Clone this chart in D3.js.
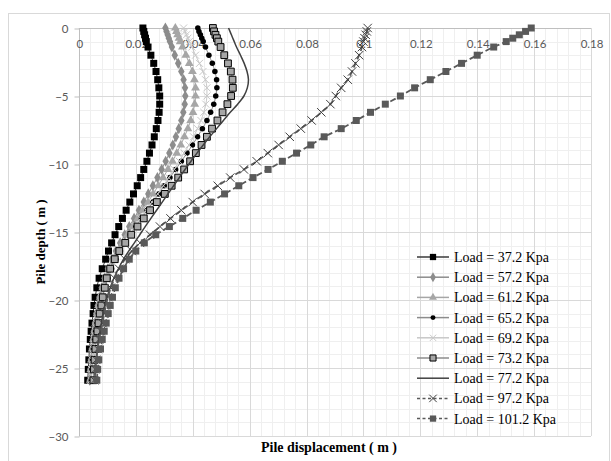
<!DOCTYPE html>
<html><head><meta charset="utf-8">
<script src="https://cdn.jsdelivr.net/npm/d3@7"></script>
<style>
html,body{margin:0;padding:0;background:#fff;}
svg{display:block;}
</style></head>
<body>
<svg id="chart" width="611" height="461"></svg>
<script>
// ---------- data ----------
const depths = [0, -0.25, -0.5, -0.75, -1.0, -1.4, -2.0, -2.6, -3.2, -3.8, -4.4, -5.0, -5.6, -6.2, -6.8, -7.4, -8.0, -8.6, -9.2, -9.8, -10.4, -11.0, -11.6, -12.2, -12.8, -13.4, -14.0, -14.6, -15.2, -15.8, -16.4, -17.0, -17.7, -18.4, -19.1, -19.8, -20.4, -21.0, -21.7, -22.3, -22.9, -23.6, -24.4, -25.1, -25.9];

const load372 = [0.0225, 0.0228, 0.0231, 0.0234, 0.0237, 0.0243, 0.0253, 0.0263, 0.0271, 0.0277, 0.0281, 0.0284, 0.0284, 0.0282, 0.0278, 0.0272, 0.0265, 0.0257, 0.0248, 0.0239, 0.0228, 0.0217, 0.0205, 0.0192, 0.0179, 0.0166, 0.0153, 0.0140, 0.0127, 0.0115, 0.0104, 0.0094, 0.0082, 0.0071, 0.0063, 0.0057, 0.0053, 0.0050, 0.0046, 0.0043, 0.0040, 0.0037, 0.0035, 0.0033, 0.0031];
const load572 = [0.0304, 0.0308, 0.0312, 0.0316, 0.0320, 0.0327, 0.0337, 0.0349, 0.0360, 0.0368, 0.0373, 0.0374, 0.0372, 0.0367, 0.0360, 0.0351, 0.0341, 0.0330, 0.0318, 0.0305, 0.0291, 0.0276, 0.0260, 0.0244, 0.0228, 0.0211, 0.0194, 0.0177, 0.0161, 0.0145, 0.0130, 0.0116, 0.0102, 0.0090, 0.0080, 0.0072, 0.0066, 0.0061, 0.0056, 0.0052, 0.0049, 0.0045, 0.0042, 0.0040, 0.0038];
const load612 = [0.0339, 0.0343, 0.0347, 0.0352, 0.0356, 0.0364, 0.0376, 0.0388, 0.0399, 0.0406, 0.0410, 0.0410, 0.0407, 0.0401, 0.0393, 0.0383, 0.0371, 0.0358, 0.0344, 0.0329, 0.0313, 0.0296, 0.0279, 0.0261, 0.0243, 0.0225, 0.0207, 0.0189, 0.0171, 0.0154, 0.0138, 0.0123, 0.0108, 0.0095, 0.0084, 0.0075, 0.0069, 0.0064, 0.0059, 0.0055, 0.0051, 0.0047, 0.0044, 0.0042, 0.0040];
const load652 = [0.0418, 0.0422, 0.0427, 0.0432, 0.0437, 0.0445, 0.0457, 0.0469, 0.0478, 0.0484, 0.0485, 0.0481, 0.0474, 0.0463, 0.0450, 0.0434, 0.0417, 0.0399, 0.0380, 0.0360, 0.0340, 0.0320, 0.0300, 0.0280, 0.0260, 0.0240, 0.0220, 0.0200, 0.0181, 0.0163, 0.0146, 0.0130, 0.0115, 0.0102, 0.0091, 0.0082, 0.0075, 0.0069, 0.0064, 0.0059, 0.0055, 0.0051, 0.0048, 0.0046, 0.0044];
const load692 = [0.0368, 0.0373, 0.0378, 0.0383, 0.0388, 0.0397, 0.0410, 0.0424, 0.0436, 0.0445, 0.0450, 0.0450, 0.0446, 0.0439, 0.0429, 0.0417, 0.0403, 0.0387, 0.0370, 0.0353, 0.0335, 0.0316, 0.0297, 0.0277, 0.0257, 0.0237, 0.0217, 0.0198, 0.0179, 0.0161, 0.0144, 0.0128, 0.0112, 0.0099, 0.0088, 0.0079, 0.0072, 0.0066, 0.0061, 0.0057, 0.0053, 0.0049, 0.0046, 0.0044, 0.0042];
const load732 = [0.0471, 0.0475, 0.0480, 0.0485, 0.0490, 0.0498, 0.0511, 0.0524, 0.0534, 0.0540, 0.0541, 0.0535, 0.0522, 0.0505, 0.0487, 0.0468, 0.0450, 0.0431, 0.0411, 0.0391, 0.0370, 0.0349, 0.0326, 0.0302, 0.0274, 0.0250, 0.0228, 0.0206, 0.0184, 0.0163, 0.0142, 0.0126, 0.0110, 0.0098, 0.0091, 0.0084, 0.0079, 0.0073, 0.0069, 0.0065, 0.0061, 0.0058, 0.0055, 0.0053, 0.0051];
const load772 = [0.0526, 0.0531, 0.0536, 0.0541, 0.0546, 0.0554, 0.0568, 0.0581, 0.0591, 0.0596, 0.0592, 0.0580, 0.0558, 0.0532, 0.0508, 0.0484, 0.0460, 0.0437, 0.0415, 0.0394, 0.0373, 0.0353, 0.0333, 0.0313, 0.0293, 0.0273, 0.0253, 0.0233, 0.0214, 0.0195, 0.0175, 0.0157, 0.0139, 0.0123, 0.0110, 0.0099, 0.0091, 0.0085, 0.0079, 0.0074, 0.0069, 0.0065, 0.0061, 0.0058, 0.0056];
const load972 = [0.1015, 0.1012, 0.1008, 0.1004, 0.1000, 0.0995, 0.0985, 0.0972, 0.0960, 0.0945, 0.0922, 0.0903, 0.0884, 0.0852, 0.0818, 0.0780, 0.0741, 0.0702, 0.0664, 0.0625, 0.0580, 0.0532, 0.0488, 0.0442, 0.0400, 0.0360, 0.0322, 0.0285, 0.0250, 0.0215, 0.0186, 0.0162, 0.0141, 0.0125, 0.0112, 0.0102, 0.0095, 0.0089, 0.0083, 0.0077, 0.0071, 0.0066, 0.0061, 0.0057, 0.0054];
const load1012 = [0.1590, 0.1570, 0.1548, 0.1525, 0.1502, 0.1458, 0.1400, 0.1345, 0.1290, 0.1235, 0.1180, 0.1130, 0.1077, 0.1025, 0.0975, 0.0922, 0.0862, 0.0815, 0.0765, 0.0715, 0.0665, 0.0612, 0.0562, 0.0512, 0.0462, 0.0412, 0.0365, 0.0318, 0.0270, 0.0230, 0.0200, 0.0177, 0.0157, 0.0141, 0.0128, 0.0118, 0.0110, 0.0103, 0.0096, 0.0089, 0.0082, 0.0076, 0.0070, 0.0066, 0.0063];

const seriesNames = ["Load = 37.2 Kpa", "Load = 57.2 Kpa", "Load = 61.2 Kpa", "Load = 65.2 Kpa", "Load = 69.2 Kpa", "Load = 73.2 Kpa", "Load = 77.2 Kpa", "Load = 97.2 Kpa", "Load = 101.2 Kpa"];
const seriesValues = [load372, load572, load612, load652, load692, load732, load772, load972, load1012];
const xTicks = [0, 0.02, 0.04, 0.06, 0.08, 0.1, 0.12, 0.14, 0.16, 0.18];
const yTicks = [0, -5, -10, -15, -20, -25, -30];
const xTitle = "Pile displacement ( m )";
const yTitle = "Pile depth ( m )";

// ---------- styles ----------
const styles = [
  {line:"#3a3a3a", w:1, dash:null, sym:d3.symbolSquare, size:49, fill:"#000", stroke:"none"},
  {line:"#8c8c8c", w:1, dash:null, sym:d3.symbolDiamond, size:36, fill:"#8c8c8c", stroke:"none"},
  {line:"#a6a6a6", w:1, dash:null, sym:d3.symbolTriangle, size:34, fill:"#a6a6a6", stroke:"none"},
  {line:"#8c8c8c", w:1, dash:null, sym:d3.symbolCircle, size:24, fill:"#000", stroke:"none"},
  {line:"#c8c8c8", w:1, dash:null, sym:d3.symbolX, size:34, fill:"none", stroke:"#c8c8c8"},
  {line:"#8c8c8c", w:1, dash:null, sym:d3.symbolSquare, size:46, fill:"#a6a6a6", stroke:"#000"},
  {line:"#404040", w:1.5, dash:null, sym:null},
  {line:"#595959", w:1.8, dash:"6,3", sym:d3.symbolX, size:48, fill:"none", stroke:"#404040"},
  {line:"#595959", w:1.8, dash:"6,3", sym:d3.symbolSquare, size:49, fill:"#595959", stroke:"none"}
];

// ---------- layout ----------
const svg = d3.select("#chart");
const x = d3.scaleLinear().domain([0, 0.18]).range([78.9, 591]);
const y = d3.scaleLinear().domain([-30, 0]).range([436, 28]);

svg.append("rect").attr("x", 8.5).attr("y", 13.5).attr("width", 601).attr("height", 460)
  .attr("fill", "#fff").attr("stroke", "#d9d9d9");

const grid = svg.append("g");
const xMinor = d3.range(0, 0.1801, 0.004);
const yMinor = d3.range(-30, 0.01, 1);
grid.selectAll(".xm").data(xMinor).join("line")
  .attr("x1", d => Math.round(x(d)) + 0.5).attr("x2", d => Math.round(x(d)) + 0.5)
  .attr("y1", y(0)).attr("y2", y(-30)).attr("stroke", "#efefef");
grid.selectAll(".ym").data(yMinor).join("line")
  .attr("y1", d => Math.round(y(d)) + 0.5).attr("y2", d => Math.round(y(d)) + 0.5)
  .attr("x1", x(0)).attr("x2", x(0.18)).attr("stroke", "#efefef");
grid.selectAll(".xM").data(xTicks).join("line")
  .attr("x1", d => Math.round(x(d)) + 0.5).attr("x2", d => Math.round(x(d)) + 0.5)
  .attr("y1", y(0)).attr("y2", y(-30)).attr("stroke", "#d9d9d9");
grid.selectAll(".yM").data(yTicks).join("line")
  .attr("y1", d => Math.round(y(d)) + 0.5).attr("y2", d => Math.round(y(d)) + 0.5)
  .attr("x1", x(0)).attr("x2", x(0.18)).attr("stroke", "#d9d9d9");

svg.append("line").attr("x1", Math.round(x(0)) + 0.5).attr("x2", Math.round(x(0)) + 0.5)
  .attr("y1", y(0)).attr("y2", y(-30)).attr("stroke", "#bfbfbf");
svg.append("line").attr("y1", Math.round(y(0)) + 0.5).attr("y2", Math.round(y(0)) + 0.5)
  .attr("x1", x(0)).attr("x2", x(0.18)).attr("stroke", "#bfbfbf");

const yAxis = d3.axisLeft(y).tickValues(yTicks).tickSize(5).tickFormat(d3.format("d"));
const gy = svg.append("g").attr("transform", `translate(${Math.round(x(0)) + 0.5},0.5)`).call(yAxis);
gy.select(".domain").remove();
gy.selectAll(".tick line").attr("stroke", "#bfbfbf");
gy.selectAll(".tick text").attr("font-family", "Lato, 'Open Sans', sans-serif").attr("font-size", 11.5)
  .attr("fill", "#595959").attr("x", -11);

const xAxis = d3.axisBottom(x).tickValues(xTicks).tickSize(0).tickFormat(d => d === 0 ? "0" : String(+d.toFixed(2)));
const gx = svg.append("g").attr("transform", `translate(0.5,${y(0)})`).call(xAxis);
gx.select(".domain").remove();
gx.selectAll(".tick text").attr("font-family", "Lato, 'Open Sans', sans-serif").attr("font-size", 11.5)
  .attr("fill", "#595959").attr("dy", "1.5em");

// ---------- series ----------
const plot = svg.append("g");
seriesValues.forEach((vals, i) => {
  const st = styles[i];
  const pts = depths.map((d, k) => [vals[k], d]);
  const line = d3.line().x(p => x(p[0])).y(p => y(p[1])).curve(d3.curveMonotoneY);
  plot.append("path").datum(pts).attr("d", line).attr("fill", "none")
    .attr("stroke", st.line).attr("stroke-width", st.w)
    .attr("stroke-dasharray", st.dash);
  if (st.sym) {
    const sym = d3.symbol().type(st.sym).size(st.size);
    plot.append("g").selectAll("path").data(pts).join("path")
      .attr("transform", p => `translate(${x(p[0])},${y(p[1])})`)
      .attr("d", sym).attr("fill", st.fill).attr("stroke", st.stroke).attr("stroke-width", 1);
  }
});

// ---------- legend ----------
const lg = svg.append("g");
seriesNames.forEach((name, i) => {
  const st = styles[i];
  const ly = 257 + i * 20.2;
  lg.append("line").attr("x1", 417).attr("x2", 449).attr("y1", ly).attr("y2", ly)
    .attr("stroke", st.line).attr("stroke-width", 1.5).attr("stroke-dasharray", st.dash ? "3,2.5" : null);
  if (st.sym) {
    lg.append("path").attr("transform", `translate(433,${ly})`)
      .attr("d", d3.symbol().type(st.sym).size(st.size * 0.8)())
      .attr("fill", st.fill).attr("stroke", st.stroke);
  }
  lg.append("text").attr("x", 454).attr("y", ly).attr("dy", "0.35em")
    .attr("font-family", "'Liberation Serif', 'Times New Roman', serif").attr("font-size", 14)
    .attr("fill", "#000").text(name);
});

// ---------- titles ----------
svg.append("text").attr("x", 329).attr("y", 452).attr("text-anchor", "middle")
  .attr("font-family", "'Liberation Serif', 'Times New Roman', serif").attr("font-weight", "bold")
  .attr("font-size", 14).text(xTitle);
svg.append("text").attr("transform", "translate(45,242) rotate(-90)").attr("text-anchor", "middle")
  .attr("font-family", "'Liberation Serif', 'Times New Roman', serif").attr("font-weight", "bold")
  .attr("font-size", 13).text(yTitle);
</script>
</body></html>
